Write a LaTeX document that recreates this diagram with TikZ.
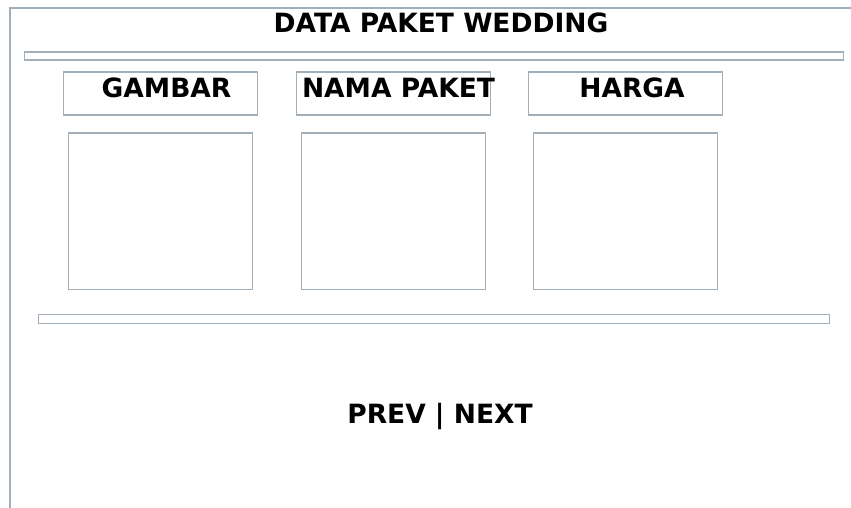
\documentclass[tikz,border=0pt]{standalone}
\usepackage{fontspec}
\setmainfont{DejaVu Sans}
\definecolor{frame}{HTML}{A3AFB8}
\tikzset{
	box/.style = {draw = frame, line width = 1.6pt, inner sep = 0pt},
	caption/.style = {font = \bfseries\fontsize{26.5}{30}\selectfont, inner sep = 0pt}
}
\begin{document}
\begin{tikzpicture}[x = 1pt, y = -1pt]
	\useasboundingbox (0,0) rectangle (851,508);
	\draw[frame, line width = 1.6pt] (10,508) -- (10,8) -- (851,8);

	\node[caption](title) at (441,23) {DATA PAKET WEDDING};
	\draw (23.5,51.5) node[box, minimum width = 819pt, minimum height = 8pt, anchor = north west](topbar) {};

	\draw (62.5,71.5) node[box, minimum width = 194pt, minimum height = 43pt, anchor = north west](hgambar) {};
	\draw (295.5,71.5) node[box, minimum width = 194pt, minimum height = 43pt, anchor = north west](hnama) {};
	\draw (527.5,71.5) node[box, minimum width = 194pt, minimum height = 43pt, anchor = north west](hharga) {};

	\node[caption] at (166.5,88) {GAMBAR};
	\node[caption] at (398.5,88) {NAMA PAKET};
	\node[caption] at (632,88) {HARGA};

	\draw (67.5,132.5) node[box, minimum width = 184pt, minimum height = 156pt, anchor = north west](gambar) {};
	\draw (300.5,132.5) node[box, minimum width = 184pt, minimum height = 156pt, anchor = north west](nama) {};
	\draw (532.5,132.5) node[box, minimum width = 184pt, minimum height = 156pt, anchor = north west](harga) {};

	\draw (37.5,313.5) node[box, minimum width = 791pt, minimum height = 9pt, anchor = north west](botbar) {};

	\node[caption](nav) at (440,416) {PREV | NEXT};
\end{tikzpicture}
\end{document}
